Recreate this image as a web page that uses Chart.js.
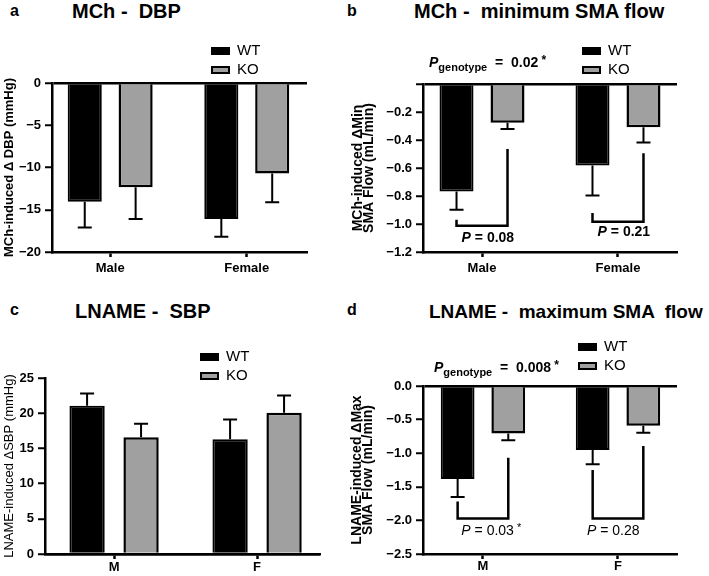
<!DOCTYPE html>
<html>
<head>
<meta charset="utf-8">
<script src="https://cdn.jsdelivr.net/npm/chart.js@4.4.1/dist/chart.umd.min.js"></script>
<style>
  body { margin: 0; width: 709px; height: 576px; background: #fff; position: relative; overflow: hidden;
         font-family: "Liberation Sans", Arial, sans-serif; color: #000; }
  canvas { position: absolute; }
  .ttl { position: absolute; font-weight: bold; font-size: 20px; line-height: 20px; white-space: nowrap; }
  .let { position: absolute; font-weight: bold; font-size: 16px; line-height: 16px; }
</style>
</head>
<body>
<div class="let" style="left:10px;top:3px">a</div>
<div class="ttl" style="left:72px;top:1px">MCh -&nbsp; DBP</div>
<div class="let" style="left:347px;top:3px">b</div>
<div class="ttl" style="left:414px;top:1px">MCh -&nbsp; minimum SMA flow</div>
<div class="let" style="left:10px;top:302px">c</div>
<div class="ttl" style="left:75px;top:301px">LNAME -&nbsp; SBP</div>
<div class="let" style="left:347px;top:302px">d</div>
<div class="ttl" style="left:429px;top:302px;font-size:19px;line-height:19px">LNAME -&nbsp; maximum SMA &nbsp;flow</div>

<canvas id="chartA" width="340" height="290" style="left:0;top:0"></canvas>
<canvas id="chartB" width="369" height="290" style="left:340px;top:0"></canvas>
<canvas id="chartC" width="340" height="286" style="left:0;top:290px"></canvas>
<canvas id="chartD" width="369" height="286" style="left:340px;top:290px"></canvas>

<script>
const FONT = '"Liberation Sans", Arial, sans-serif';
Chart.defaults.font.family = FONT;
Chart.defaults.color = '#000';

// categories (x positions 1 and 2)
const sexLong = ['Male', 'Female'];
const sexShort = ['M', 'F'];
const catPos = [1, 2];
const groups = ['WT', 'KO'];

// a - MCh, diastolic BP (mmHg)
const dbpWT = [-14.05, -16.1];
const dbpKO = [-12.35, -10.7];
const dbpWTerr = [3.05, 2.1];
const dbpKOerr = [3.75, 3.4];
const dbpTicks = [0, -5, -10, -15, -20];

// b - MCh, minimum SMA flow (mL/min)
const minWT = [-0.767, -0.583];
const minKO = [-0.276, -0.309];
const minWTerr = [0.131, 0.214];
const minKOerr = [0.045, 0.109];
const minTicks = [0, -0.2, -0.4, -0.6, -0.8, -1.0, -1.2];
const minBrFrom = [-0.97, -0.922];
const minBrLevel = [-1.013, -0.984];
const minBrTo = [-0.464, -0.494];
const minP = ['0.08', '0.21'];
const minPx = [0.85, 1.85];
const minPy = [-1.10, -1.058];

// c - LNAME, systolic BP (mmHg)
const sbpWT = [21.05, 16.3];
const sbpKO = [16.6, 20.07];
const sbpWTerr = [1.75, 2.8];
const sbpKOerr = [1.9, 2.45];
const sbpTicks = [0, 5, 10, 15, 20, 25];

// d - LNAME, maximum SMA flow (mL/min)
const maxWT = [-1.385, -0.954];
const maxKO = [-0.706, -0.593];
const maxWTerr = [0.265, 0.212];
const maxKOerr = [0.10, 0.104];
const maxTicks = [0, -0.5, -1.0, -1.5, -2.0, -2.5];
const maxBrFrom = [-1.72, -1.25];
const maxBrLevel = [-1.97, -1.97];
const maxBrTo = [-1.068, -0.894];
const maxP = ['0.03', '0.28'];
const maxPstar = [true, false];
const maxPx = [0.84, 1.77];
const maxPy = [-2.16, -2.16];

const minus = v => (v < 0 ? '\u2212' : '');

function richText(ctx, parts, x, y) {
    let cx = x;
    parts.forEach(p => {
        ctx.font = p.font;
        ctx.fillText(p.text, cx, y + (p.dy || 0));
        cx += ctx.measureText(p.text).width;
    });
}

// error bars, legend, brackets and P values
function overlay(o) {
    return {
        id: 'overlay',
        afterDatasetsDraw(chart) {
            const ctx = chart.ctx;
            const ys = chart.scales.y, xs = chart.scales.x;
            const area = chart.chartArea;
            ctx.save();
            ctx.strokeStyle = '#000';
            ctx.fillStyle = '#000';

            // error bars (one sided, away from zero)
            chart.data.datasets.forEach((ds, di) => {
                chart.getDatasetMeta(di).data.forEach((bar, j) => {
                    const v = ds.data[j].y, e = ds.errors[j];
                    const end = ys.getPixelForValue(v < 0 ? v - e : v + e);
                    ctx.lineWidth = 2;
                    ctx.beginPath();
                    ctx.moveTo(bar.x, bar.y);
                    ctx.lineTo(bar.x, end);
                    ctx.moveTo(bar.x - 7, end);
                    ctx.lineTo(bar.x + 7, end);
                    ctx.stroke();
                });
            });

            // legend
            const lx = area.right + o.legDx, ly = area.top + o.legDy;
            ctx.fillStyle = '#000';
            ctx.fillRect(lx, ly - 4, 19, 8);
            ctx.fillStyle = '#a0a0a0';
            ctx.fillRect(lx, ly + 15, 19, 8);
            ctx.lineWidth = 2;
            ctx.strokeRect(lx + 1, ly + 16, 17, 6);
            ctx.fillStyle = '#000';
            ctx.font = '15px ' + FONT;
            ctx.textBaseline = 'middle';
            ctx.textAlign = 'left';
            ctx.fillText(groups[0], lx + 26, ly);
            ctx.fillText(groups[1], lx + 26, ly + 19);

            // brackets between WT and KO
            if (o.brFrom) {
                const wt = chart.getDatasetMeta(0).data, ko = chart.getDatasetMeta(1).data;
                ctx.lineWidth = 2.5;
                ctx.lineJoin = 'miter';
                o.brFrom.forEach((f, j) => {
                    const lvl = ys.getPixelForValue(o.brLevel[j]);
                    ctx.beginPath();
                    ctx.moveTo(wt[j].x, ys.getPixelForValue(f));
                    ctx.lineTo(wt[j].x, lvl);
                    ctx.lineTo(ko[j].x, lvl);
                    ctx.lineTo(ko[j].x, ys.getPixelForValue(o.brTo[j]));
                    ctx.stroke();

                    const w = o.pBold ? 'bold ' : '';
                    const parts = [
                        { text: 'P', font: 'italic ' + w + '14px ' + FONT },
                        { text: ' = ' + o.pVals[j], font: w + '14px ' + FONT }
                    ];
                    if (o.pStar && o.pStar[j]) parts.push({ text: ' *', font: w + '11px ' + FONT, dy: -3 });
                    ctx.textBaseline = 'middle';
                    richText(ctx, parts, xs.getPixelForValue(o.pX[j]), ys.getPixelForValue(o.pY[j]));
                });
            }

            // P genotype
            if (o.pGeno) {
                ctx.textBaseline = 'alphabetic';
                richText(ctx, [
                    { text: 'P', font: 'italic bold 14px ' + FONT },
                    { text: 'genotype', font: 'bold 11px ' + FONT, dy: 4 },
                    { text: '  = ', font: 'bold 14px ' + FONT },
                    { text: ' ' + o.pGeno, font: 'bold 14px ' + FONT },
                    { text: ' *', font: 'bold 12px ' + FONT, dy: -3 }
                ], area.left + o.genoDx, area.top + o.genoDy);
            }
            ctx.restore();
        }
    };
}

function makeChart(id, o) {
    return new Chart(document.getElementById(id), {
        type: 'bar',
        data: {
            datasets: [
                {
                    label: groups[0],
                    data: o.wt.map((v, i) => ({ x: catPos[i], y: v })),
                    errors: o.wtErr,
                    backgroundColor: '#000',
                    borderColor: '#000',
                    borderWidth: 2
                },
                {
                    label: groups[1],
                    data: o.ko.map((v, i) => ({ x: catPos[i], y: v })),
                    errors: o.koErr,
                    backgroundColor: '#a0a0a0',
                    borderColor: '#000',
                    borderWidth: 2.5
                }
            ]
        },
        options: {
            responsive: false,
            animation: false,
            categoryPercentage: o.catPct,
            barPercentage: o.barPct,
            layout: { padding: { top: o.top, right: o.right, left: 0, bottom: 0 } },
            plugins: { legend: { display: false }, tooltip: { enabled: false } },
            scales: {
                x: {
                    type: 'linear',
                    offset: false,
                    min: o.xMin,
                    max: o.xMax,
                    afterBuildTicks: s => { s.ticks = catPos.map(v => ({ value: v })); },
                    afterFit: s => { s.height = o.xH; },
                    ticks: {
                        callback: (v, i) => o.labels[i],
                        font: { size: 13, weight: 'bold' },
                        color: '#000',
                        padding: o.xPad,
                        maxRotation: 0,
                        autoSkip: false
                    },
                    grid: { offset: false, drawOnChartArea: false, tickLength: 5, tickColor: '#000', tickWidth: 2.5 },
                    border: { color: '#000', width: 2.5 }
                },
                y: {
                    min: Math.min(...o.yTicks),
                    max: Math.max(...o.yTicks),
                    afterBuildTicks: s => { s.ticks = o.yTicks.map(v => ({ value: v })); },
                    afterFit: s => { s.width = o.yW; },
                    ticks: {
                        callback: o.fmt,
                        font: { size: 13, weight: 'bold' },
                        color: '#000',
                        padding: 4
                    },
                    grid: {
                        color: c => (c.tick && c.tick.value === 0 ? '#000' : 'rgba(0,0,0,0)'),
                        lineWidth: 2.5,
                        tickColor: '#000',
                        tickWidth: 2,
                        tickLength: 7
                    },
                    border: { color: '#000', width: 2.5 },
                    title: {
                        display: true,
                        text: o.yTitle,
                        font: o.yTitleFont,
                        color: '#000',
                        padding: { top: o.yTitlePad, bottom: 0 }
                    }
                }
            }
        },
        plugins: [overlay(o)]
    });
}

makeChart('chartA', {
    wt: dbpWT, ko: dbpKO, wtErr: dbpWTerr, koErr: dbpKOerr, yTicks: dbpTicks, labels: sexLong,
    fmt: v => minus(v) + Math.abs(v),
    xMin: 0.574, xMax: 2.441, catPct: 0.745, barPct: 0.67,
    top: 83, right: 33, xH: 38, yW: 52, xPad: 4,
    yTitle: 'MCh-induced \u0394 DBP (mmHg)', yTitleFont: { size: 13, weight: 'bold', lineHeight: 1.2 }, yTitlePad: 2,
    legDx: -96, legDy: -32
});

makeChart('chartB', {
    wt: minWT, ko: minKO, wtErr: minWTerr, koErr: minKOerr, yTicks: minTicks, labels: sexLong,
    fmt: v => (Math.abs(v) < 1e-9 ? '' : minus(v) + Math.abs(v).toFixed(1)),
    xMin: 0.566, xMax: 2.434, catPct: 0.75, barPct: 0.667,
    top: 84, right: 32, xH: 38, yW: 83, xPad: 4,
    yTitle: ['MCh-induced \u0394Min', 'SMA Flow (mL/min)'], yTitleFont: { size: 14, weight: 'bold', lineHeight: '11px' }, yTitlePad: 12.5,
    legDx: -95, legDy: -33,
    brFrom: minBrFrom, brLevel: minBrLevel, brTo: minBrTo, pVals: minP, pX: minPx, pY: minPy, pBold: true,
    pGeno: '0.02', genoDx: 6, genoDy: -17
});

makeChart('chartC', {
    wt: sbpWT, ko: sbpKO, wtErr: sbpWTerr, koErr: sbpKOerr, yTicks: sbpTicks, labels: sexShort,
    fmt: v => String(v),
    xMin: 0.517, xMax: 2.44, catPct: 0.755, barPct: 0.654,
    top: 88, right: 20, xH: 22, yW: 45, xPad: 1,
    yTitle: 'LNAME-induced \u0394SBP (mmHg)', yTitleFont: { size: 13, weight: 'normal', lineHeight: 1.2 }, yTitlePad: 2,
    legDx: -120, legDy: -21
});

makeChart('chartD', {
    wt: maxWT, ko: maxKO, wtErr: maxWTerr, koErr: maxKOerr, yTicks: maxTicks, labels: sexShort,
    fmt: v => minus(v) + Math.abs(v).toFixed(1),
    xMin: 0.556, xMax: 2.437, catPct: 0.75, barPct: 0.667,
    top: 96, right: 32, xH: 22, yW: 83, xPad: 0,
    yTitle: ['LNAME-induced \u0394Max', 'SMA Flow (mL/min)'], yTitleFont: { size: 14, weight: 'bold', lineHeight: '11px' }, yTitlePad: 11.5,
    legDx: -99, legDy: -39,
    brFrom: maxBrFrom, brLevel: maxBrLevel, brTo: maxBrTo, pVals: maxP, pStar: maxPstar, pX: maxPx, pY: maxPy, pBold: false,
    pGeno: '0.008', genoDx: 11, genoDy: -14
});
</script>
</body>
</html>
